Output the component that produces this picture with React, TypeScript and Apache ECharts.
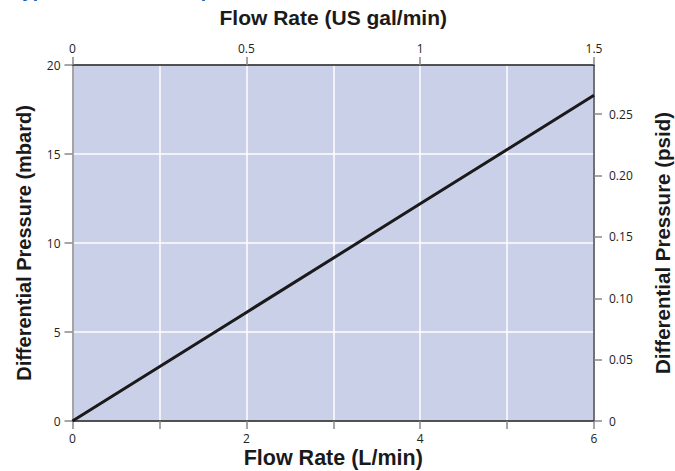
import React, { useEffect, useRef } from "react";
import * as echarts from "echarts";

const flowLmin = [0, 2, 4, 6];
const pressureMbard = [0, 6.1, 12.2, 18.3];
const leftTicks = [0, 5, 10, 15, 20];
const rightTicks = [0, 0.05, 0.1, 0.15, 0.2, 0.25];
const topTicks = [0, 0.5, 1, 1.5];
const bottomLabelValues = [0, 2, 4, 6];

const TITLE_FONT = "'Liberation Sans', Arial, Helvetica, sans-serif";
const LABEL_FONT = "'Open Sans', 'Noto Sans', sans-serif";

export default function App() {
  const ref = useRef<HTMLDivElement>(null);
  useEffect(() => {
    if (!ref.current) return;
    const chart = echarts.init(ref.current, undefined, { renderer: "svg" });
    const nameStyle = (size: number) => ({
      fontFamily: TITLE_FONT,
      fontWeight: "bold" as const,
      fontSize: size,
      color: "#1a1a1a",
    });
    const labelStyle = {
      fontFamily: LABEL_FONT,
      fontSize: 12,
      color: "#222",
    };
    const tickStyle = { show: true, length: 8, inside: false, lineStyle: { color: "#888", width: 1.5 } };
    chart.setOption({
      animation: false,
      backgroundColor: "#fff",
      grid: {
        left: 72.5,
        right: 81,
        top: 65,
        bottom: 50,
        show: true,
        backgroundColor: "#cbd0e9",
        borderWidth: 0,
        containLabel: false,
        outerBoundsMode: "none",
      },
      graphic: [
        {
          type: "text",
          left: 12,
          top: -19,
          style: {
            text: "Typical Pressure Drop",
            font: `bold 19px ${TITLE_FONT}`,
            fill: "#1a62b8",
          },
        },
      ],
      xAxis: [
        {
          type: "value",
          position: "bottom",
          min: 0,
          max: 6,
          interval: 1,
          name: "Flow Rate (L/min)",
          nameLocation: "middle",
          nameGap: 26,
          nameMoveOverlap: false,
          nameTextStyle: nameStyle(21.5),
          axisLine: { show: true, onZero: false, lineStyle: { color: "#1a1a1a", width: 1.5 } },
          axisTick: tickStyle,
          axisLabel: {
            ...labelStyle,
            margin: 11,
            customValues: bottomLabelValues,
          },
          splitLine: { show: true, lineStyle: { color: "#ffffff", width: 1.5 } },
        },
        {
          type: "value",
          position: "top",
          min: 0,
          max: 1.5,
          interval: 0.5,
          name: "Flow Rate (US gal/min)",
          nameLocation: "middle",
          nameGap: 37,
          nameMoveOverlap: false,
          nameTextStyle: nameStyle(21),
          axisLine: { show: true, onZero: false, lineStyle: { color: "#1a1a1a", width: 1.5 } },
          axisTick: { ...tickStyle, customValues: topTicks },
          axisLabel: {
            ...labelStyle,
            margin: 11,
            customValues: topTicks,
            formatter: (v: number) => String(v),
          },
          splitLine: { show: false },
        },
      ],
      yAxis: [
        {
          type: "value",
          position: "left",
          min: 0,
          max: 20,
          interval: 5,
          name: "Differential Pressure (mbard)",
          nameLocation: "middle",
          nameGap: 38.5,
          nameMoveOverlap: false,
          nameTextStyle: nameStyle(20),
          axisLine: { show: true, onZero: false, lineStyle: { color: "#888", width: 1.5 } },
          axisTick: { ...tickStyle, customValues: leftTicks },
          axisLabel: { ...labelStyle, margin: 12, customValues: leftTicks },
          splitLine: { show: true, lineStyle: { color: "#ffffff", width: 1.5 } },
        },
        {
          type: "value",
          position: "right",
          min: 0,
          max: 0.29008,
          name: "Differential Pressure (psid)",
          nameLocation: "middle",
          nameGap: 58,
          nameRotate: 90,
          nameMoveOverlap: false,
          nameTextStyle: nameStyle(20.5),
          axisLine: { show: true, onZero: false, lineStyle: { color: "#444", width: 1.5 } },
          axisTick: { ...tickStyle, customValues: rightTicks },
          axisLabel: {
            ...labelStyle,
            margin: 15,
            customValues: rightTicks,
            formatter: (v: number) => (v === 0 ? "0" : v.toFixed(2)),
          },
          splitLine: { show: false },
        },
      ],
      series: [
        {
          type: "line",
          xAxisIndex: 0,
          yAxisIndex: 0,
          data: flowLmin.map((x, i) => [x, pressureMbard[i]]),
          showSymbol: false,
          lineStyle: { color: "#1a1a1a", width: 3 },
          clip: true,
        },
      ],
    });
    return () => chart.dispose();
  }, []);
  return <div ref={ref} style={{ width: 675, height: 471, position: "absolute", left: 0, top: 0 }} />;
}
